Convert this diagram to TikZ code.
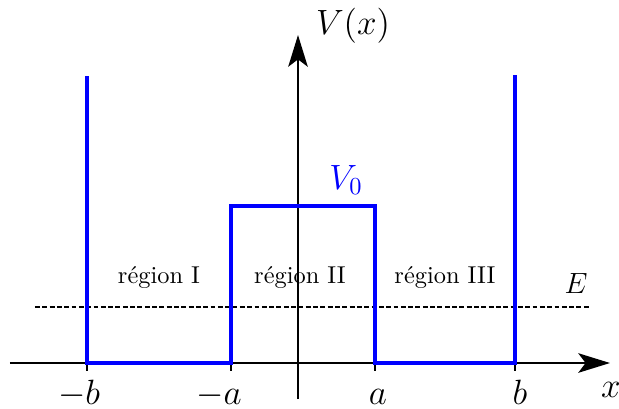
\documentclass[tikz,border=0pt]{standalone}
\usetikzlibrary{arrows.meta}
\begin{document}
\begin{tikzpicture}[x=0.41pt,y=0.41pt,
        axe/.style={thick,-{Stealth[length=13pt,width=8pt,inset=3pt]}},
        potentiel/.style={blue,line width=1.4pt},
        graduation/.style={thick},
        etiquette/.style={anchor=base,inner sep=0.5pt}]
        \useasboundingbox (-298,-45) rectangle (321,363);
        \draw [axe] (-288,0) -- (312,0);
        \draw [axe] (0,-36) -- (0,328);
        \foreach \t in {-211,-67,77,217} \draw [graduation] (\t,0) -- (\t,-8);
        \draw [line width=0.6pt,dash pattern=on 2pt off 1pt] (-263,56) -- (292,56);
        \draw [potentiel] (-211,287) -- (-211,0) -- (-67,0) -- (-67,157) -- (77,157) -- (77,0) -- (217,0) -- (217,288);

        \path (-219,-41) node (mb) [etiquette] {\Large $-b$};
        \path (-79,-41) node (ma) [etiquette] {\Large $-a$};
        \path (80,-41) node (pa) [etiquette] {\Large $a$};
        \path (222,-41) node (pb) [etiquette] {\Large $b$};
        \path (313,-27) node (lx) [inner sep=0.5pt] {\Large $x$};
        \path (55,337) node (lv) {\Large $V(x)$};
        \path [blue] (48,183) node (lvz) {\Large $V_0$};
        \path (278,70) node (le) [anchor=base] {\large $E$};
        \path (-139,80) node (r1) [anchor=base] {région I};
        \path (2,80) node (r2) [anchor=base] {région II};
        \path (147,80) node (r3) [anchor=base] {région III};
    \end{tikzpicture}
\end{document}
